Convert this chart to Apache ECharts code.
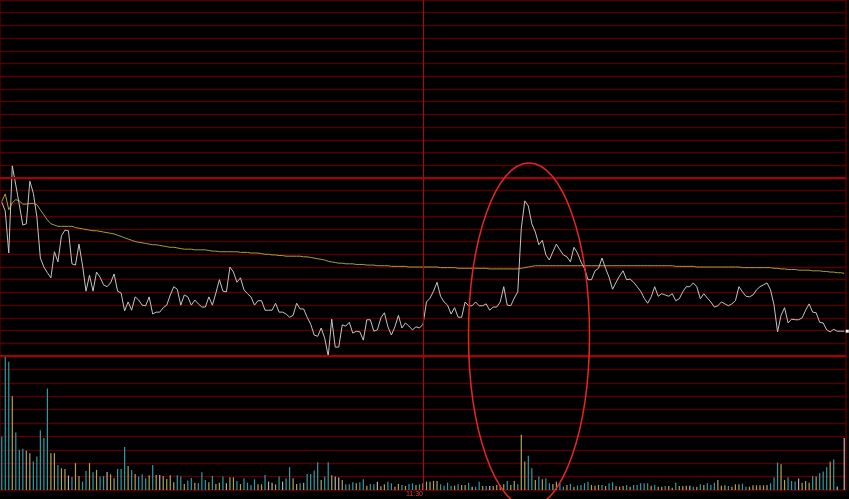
<!DOCTYPE html>
<html>
<head>
<meta charset="utf-8">
<script src="https://cdn.jsdelivr.net/npm/echarts@6/dist/echarts.min.js"></script>
<style>
html,body{margin:0;padding:0;background:#000;}
#chart{width:849px;height:499px;}
</style>
</head>
<body>
<div id="chart"></div>
<script>
// ---- data ----
const times = [];
function fmt(m){const h=Math.floor(m/60),mm=m%60;return (h<10?'0':'')+h+':'+(mm<10?'0':'')+mm;}
for (let m = 570; m <= 690; m++) times.push(fmt(m));
for (let m = 781; m <= 900; m++) times.push(fmt(m));

const prevClose = 10.00;

const price = [
9.962,9.948,9.882,10.019,9.989,9.958,9.926,9.928,9.995,9.976,
9.939,9.874,9.860,9.851,9.843,9.884,9.868,9.909,9.918,9.917,
9.865,9.863,9.896,9.863,9.822,9.847,9.822,9.852,9.844,9.832,
9.829,9.835,9.849,9.822,9.819,9.791,9.805,9.792,9.813,9.808,
9.800,9.799,9.813,9.786,9.789,9.789,9.796,9.800,9.816,9.829,
9.825,9.800,9.816,9.813,9.800,9.808,9.802,9.797,9.797,9.813,
9.800,9.819,9.840,9.822,9.821,9.860,9.852,9.836,9.843,9.824,
9.818,9.813,9.800,9.807,9.807,9.792,9.792,9.792,9.803,9.789,
9.789,9.786,9.781,9.784,9.803,9.794,9.794,9.781,9.770,9.753,
9.751,9.764,9.748,9.720,9.778,9.734,9.734,9.769,9.767,9.773,
9.756,9.759,9.758,9.745,9.777,9.777,9.759,9.761,9.780,9.788,
9.766,9.753,9.766,9.784,9.764,9.772,9.767,9.761,9.766,9.764,
9.770,9.805,9.811,9.822,9.836,9.814,9.805,9.800,9.786,9.796,
9.781,9.781,9.805,9.799,9.799,9.805,9.799,9.799,9.802,9.792,
9.797,9.797,9.805,9.829,9.800,9.799,9.811,9.821,9.921,9.964,
9.956,9.928,9.915,9.895,9.902,9.879,9.871,9.884,9.896,9.887,
9.879,9.876,9.868,9.891,9.882,9.868,9.858,9.840,9.840,9.854,
9.858,9.874,9.858,9.844,9.825,9.836,9.846,9.854,9.840,9.841,
9.836,9.829,9.822,9.811,9.803,9.813,9.829,9.814,9.818,9.816,
9.814,9.818,9.807,9.810,9.821,9.829,9.829,9.835,9.829,9.810,
9.818,9.811,9.805,9.797,9.799,9.805,9.802,9.799,9.802,9.807,
9.829,9.821,9.814,9.813,9.816,9.824,9.829,9.832,9.835,9.824,
9.800,9.758,9.784,9.796,9.772,9.778,9.777,9.777,9.780,9.792,
9.802,9.789,9.788,9.773,9.772,9.761,9.758,9.762,9.759,9.759,
9.759
];

const avgPrice = [
9.963,9.975,9.950,9.961,9.966,9.964,9.959,9.959,9.960,9.960,
9.958,9.950,9.942,9.934,9.928,9.926,9.924,9.924,9.924,9.924,
9.924,9.922,9.921,9.920,9.919,9.918,9.917,9.917,9.916,9.915,
9.914,9.913,9.912,9.910,9.908,9.906,9.904,9.902,9.900,9.899,
9.898,9.897,9.896,9.895,9.895,9.894,9.893,9.892,9.891,9.891,
9.890,9.889,9.888,9.888,9.888,9.887,9.887,9.887,9.887,9.886,
9.885,9.885,9.884,9.884,9.884,9.884,9.884,9.884,9.883,9.883,
9.883,9.882,9.882,9.882,9.881,9.880,9.880,9.879,9.879,9.878,
9.878,9.877,9.877,9.877,9.877,9.877,9.876,9.876,9.875,9.874,
9.873,9.872,9.871,9.869,9.868,9.867,9.866,9.866,9.865,9.865,
9.865,9.864,9.864,9.864,9.863,9.863,9.863,9.862,9.862,9.862,
9.862,9.861,9.861,9.861,9.861,9.861,9.860,9.860,9.860,9.860,
9.860,9.860,9.860,9.860,9.860,9.859,9.859,9.859,9.859,9.859,
9.858,9.858,9.858,9.858,9.858,9.858,9.858,9.858,9.858,9.857,
9.857,9.857,9.857,9.857,9.857,9.857,9.857,9.857,9.858,9.859,
9.860,9.861,9.862,9.862,9.862,9.862,9.862,9.862,9.862,9.862,
9.862,9.862,9.862,9.862,9.862,9.862,9.862,9.862,9.862,9.862,
9.862,9.862,9.862,9.862,9.862,9.862,9.862,9.862,9.862,9.862,
9.862,9.862,9.862,9.862,9.862,9.862,9.862,9.862,9.862,9.862,
9.862,9.862,9.861,9.861,9.861,9.861,9.861,9.861,9.860,9.860,
9.860,9.860,9.860,9.860,9.860,9.860,9.860,9.860,9.860,9.860,
9.860,9.859,9.859,9.859,9.859,9.859,9.859,9.859,9.859,9.859,
9.858,9.858,9.857,9.857,9.856,9.856,9.856,9.855,9.855,9.855,
9.855,9.854,9.854,9.854,9.853,9.853,9.852,9.852,9.851,9.851,
9.850
];

const volume = [
8000,19900,19150,14000,8600,6000,6150,5850,5500,4250,
5000,8900,7750,15150,5500,5500,3750,3250,3150,2150,
1950,4000,2100,1250,2850,4000,2650,3000,2000,2100,
2700,2350,1750,3150,3150,6400,3600,3000,2400,2000,
2350,1750,2200,3750,2250,2250,2100,1650,2200,1150,
2200,2000,900,1400,1800,1100,1000,2650,1500,1150,
2100,900,1100,2000,1000,1900,1900,1350,900,1750,
1100,750,1600,850,850,2250,1250,1100,850,2000,
1250,1750,3400,1750,900,1000,1100,2400,2400,2900,
4150,1500,2000,4150,2200,2000,1850,1500,850,850,
1150,1000,1150,1600,650,900,850,1250,550,870,
1250,1000,500,900,750,600,900,1000,750,850,
1000,1250,1250,1350,1350,850,650,1100,650,650,
850,750,750,1100,500,500,1250,600,600,600,
600,750,750,850,1350,750,1350,850,8250,4250,
5100,3250,1500,2000,1600,1750,1000,900,1250,1000,
500,750,900,500,680,750,1000,1250,750,650,
750,750,600,1000,1150,600,500,600,750,500,
750,750,1000,1000,1000,650,750,500,500,600,
600,350,1100,600,600,650,650,500,500,850,
750,1000,750,1100,1500,650,700,600,500,850,
850,950,500,500,700,700,700,700,750,1000,
1900,4100,3850,1500,1900,1350,1280,1700,1100,1350,
1100,2100,2000,2500,2750,3400,4200,4550,520,0,
7750
];

// u = up minute, d = down minute, f = flat
const volDir = (
"ddduddduud"+"dddduuduuf"+"duuddududd"+"fuudddudud"+"ddudufuuuu"+
"dduddudddu"+"duudfuudud"+"ddduudffud"+"fdduududdd"+"dudduffudd"+
"dudduddfuu"+"dduududdud"+"fuuuuddddu"+"duudfddudf"+"uuuuduuduu"+
"ddududduud"+"dududddduu"+"ududduuudu"+"ddddduduud"+"uuduuufdud"+
"uddduuuduu"+"udduuuuuud"+"dduudddfuu"+"ududddudf"+"ff"
).split('');

const COLORS = {u:'#b0a452', d:'#2a9ea6', f:'#b4b4b4'};

const chart = echarts.init(document.getElementById('chart'), null, {renderer:'canvas'});

const gridLine = '#520000';
const strongLine = '#a80000';
const sessionLine = '#c00000';

chart.setOption({
  backgroundColor: '#000000',
  animation: false,
  textStyle: {fontFamily: 'Liberation Sans, Arial, sans-serif'},
  grid: [
    {left: 0, top: 0, width: 846, height: 356, show: true, borderColor: '#7a0000', borderWidth: 1},
    {left: 0, top: 356, width: 846, height: 134, show: true, borderColor: '#7a0000', borderWidth: 1}
  ],
  xAxis: [
    {type: 'category', gridIndex: 0, data: times, boundaryGap: true,
     axisLine: {show: false}, axisTick: {show: false}, axisLabel: {show: false}, splitLine: {show: false}},
    {type: 'category', gridIndex: 1, data: times, boundaryGap: true,
     axisLine: {show: false}, axisTick: {show: false}, splitLine: {show: false},
     axisLabel: {show: true, interval: function(i){return i === 120;}, color: '#e03a3a',
       fontSize: 7, align: 'right', margin: 1, fontFamily: 'Liberation Sans'}}
  ],
  yAxis: [
    {type: 'value', gridIndex: 0, min: 9.72, max: 10.28, interval: 0.02,
     axisLine: {show: false}, axisTick: {show: false}, axisLabel: {show: false},
     splitLine: {show: true, lineStyle: {color: gridLine, width: 1.4}}},
    {type: 'value', gridIndex: 1, min: 0, max: 20000, interval: 2000,
     axisLine: {show: false}, axisTick: {show: false}, axisLabel: {show: false},
     splitLine: {show: true, lineStyle: {color: gridLine, width: 1.4}}}
  ],
  series: [
    {
      name: '成交量', type: 'bar', xAxisIndex: 1, yAxisIndex: 1, data: volume,
      barWidth: 1.2, silent: true,
      itemStyle: {color: function(p){return COLORS[volDir[p.dataIndex]] || COLORS.f;}},
      markLine: {silent: true, symbol: ['none','none'], label: {show: false}, animation: false,
        data: [
          {yAxis: 20000, lineStyle: {color: strongLine, width: 1.8, type: 'solid'}},
          {xAxis: times[120], lineStyle: {color: sessionLine, width: 1, type: 'solid'}}
        ]}
    },
    {
      name: '均价', type: 'line', xAxisIndex: 0, yAxisIndex: 0, data: avgPrice,
      symbol: 'none', showSymbol: false, silent: true,
      lineStyle: {color: '#a8a03c', width: 1}
    },
    {
      name: '价格', type: 'line', xAxisIndex: 0, yAxisIndex: 0, data: price,
      symbol: 'none', showSymbol: false, silent: true, z: 3,
      lineStyle: {color: '#c4c4c4', width: 1},
      markLine: {silent: true, symbol: ['none','none'], label: {show: false}, animation: false,
        data: [
          {yAxis: prevClose, lineStyle: {color: strongLine, width: 1.8, type: 'solid'}},
          {xAxis: times[120], lineStyle: {color: sessionLine, width: 1, type: 'solid'}}
        ]},
      markPoint: {silent: true, animation: false, symbol: 'rect', symbolSize: [3, 3], symbolOffset: [3, 0],
        label: {show: false}, itemStyle: {color: '#ffffff'},
        data: [{coord: [times[240], price[240]]}]}
    }
  ],
  graphic: [
    {type: 'ellipse', z: 100, silent: true,
     shape: {cx: 529, cy: 335, rx: 60.5, ry: 172},
     style: {fill: 'none', stroke: '#e02828', lineWidth: 1.5}}
  ]
});
</script>
</body>
</html>
